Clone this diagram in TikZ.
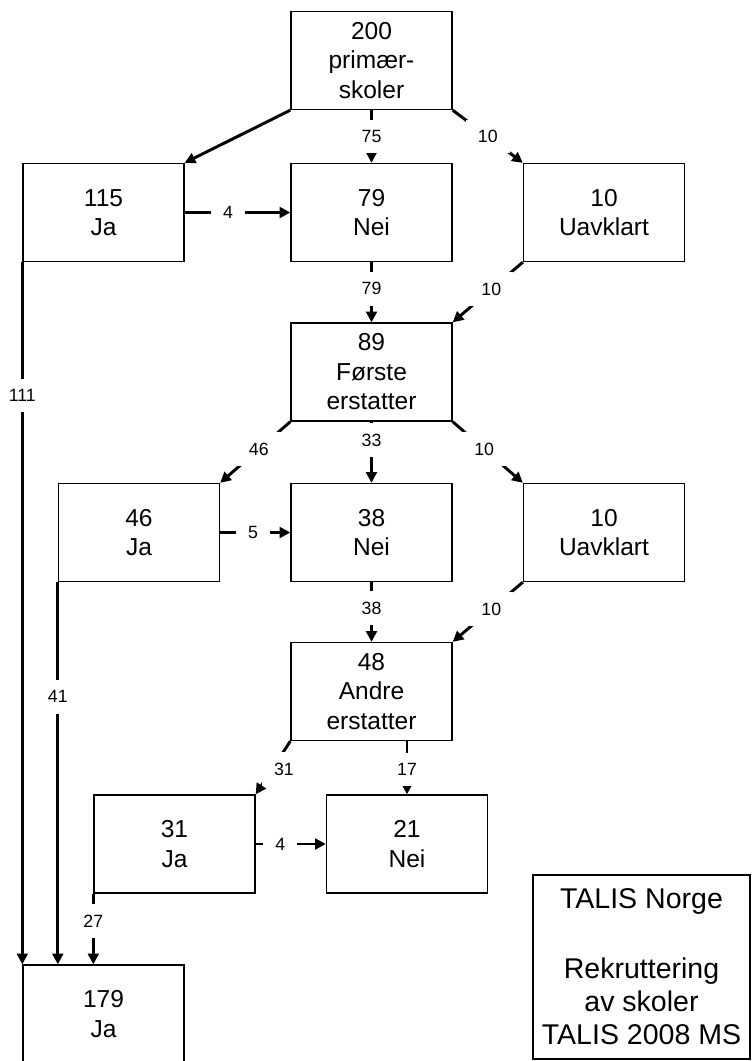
\documentclass[tikz,border=0pt]{standalone}
\usepackage{fontspec}
\setmainfont{Liberation Sans}
\usetikzlibrary{arrows.meta}

\begin{document}
\begin{tikzpicture}[
  x=0.75pt, y=-0.75pt,
  >={Triangle[length=8pt,width=8pt]},
  skole/.style={draw, line width=1pt, minimum width=120.75pt,
    minimum height=73.5pt, inner sep=0pt, align=center,
    font=\fontsize{18.4}{22.1}\selectfont},
  tall/.style={fill=white, inner xsep=9pt, inner ysep=8pt,
    font=\fontsize{13.3}{16}\selectfont},
  flyt/.style={->, line width=2.2pt}
]


\path[use as bounding box] (0,0) rectangle (752,1061);

% Sample and the two rounds of replacement schools.
\node[skole] (skoler) at (371.5,60.5) {200\\primær-\\skoler};
\node[skole] (ja1)    at (103.5,212.5) {115\\Ja};
\node[skole] (nei1)   at (371.5,212.5) {79\\Nei};
\node[skole] (uavk1)  at (604,212.5)   {10\\Uavklart};
\node[skole] (erst1)  at (371.5,372)   {89\\Første\\erstatter};
\node[skole] (ja2)    at (139,532.5)   {46\\Ja};
\node[skole] (nei2)   at (371.5,532.5) {38\\Nei};
\node[skole] (uavk2)  at (604,532.5)   {10\\Uavklart};
\node[skole] (erst2)  at (371.5,691.5) {48\\Andre\\erstatter};
\node[skole] (ja3)    at (174.5,844)   {31\\Ja};
\node[skole] (nei3)   at (407,844)     {21\\Nei};
\node[skole] (jatot)  at (103.5,1014)  {179\\Ja};

% Title box.
\node[draw, line width=1pt, minimum width=162.75pt, minimum height=138pt,
      align=center, font=\fontsize{21.4}{25}\selectfont] (info) at (641.5,967)
  {TALIS Norge\\[27pt]Rekruttering\\av skoler\\TALIS 2008 MS};

% First round.
\draw[flyt] (skoler.south west) -- (ja1.north east);
\draw[flyt] (skoler.south) -- node[tall] {75} (nei1.north);
\draw[flyt] (skoler.south east) -- node[tall] {10} (uavk1.north west);
\draw[flyt] (ja1.east) -- node[tall, pos=.41] {4} (nei1.west);
\draw[flyt] (nei1.south) -- node[tall, pos=.44] {79} (erst1.north);
\draw[flyt] (uavk1.south west) -- node[tall, pos=.45] {10} (erst1.north east);
\draw[flyt] (ja1.south west) -- node[tall, pos=.19] {111} (jatot.north west);

% Second round.
\draw[flyt] (erst1.south west) -- node[tall, pos=.45] {46} (ja2.north east);
\draw[flyt] (erst1.south) -- node[tall, pos=.30] {33} (nei2.north);
\draw[flyt] (erst1.south east) -- node[tall, pos=.45] {10} (uavk2.north west);
\draw[flyt] (ja2.east) -- node[tall, pos=.47] {5} (nei2.west);
\draw[flyt] (nei2.south) -- node[tall, pos=.44] {38} (erst2.north);
\draw[flyt] (uavk2.south west) -- node[tall, pos=.45] {10} (erst2.north east);
\draw[flyt] (ja2.south west) -- node[tall, pos=.30] {41}
  (ja2.south west |- jatot.north);

% Third round.
\draw[flyt] (erst2.south west) -- node[tall, pos=.53, xshift=9pt] {31}
  (ja3.north east);
\draw[flyt] (nei3.north |- erst2.south) -- node[tall, pos=.53] {17} (nei3.north);
\draw[flyt] (ja3.east) -- node[tall, pos=.35] {4} (nei3.west);
\draw[flyt] (ja3.south west) -- node[tall, pos=.39] {27}
  (ja3.south west |- jatot.north);

\end{tikzpicture}
\end{document}
